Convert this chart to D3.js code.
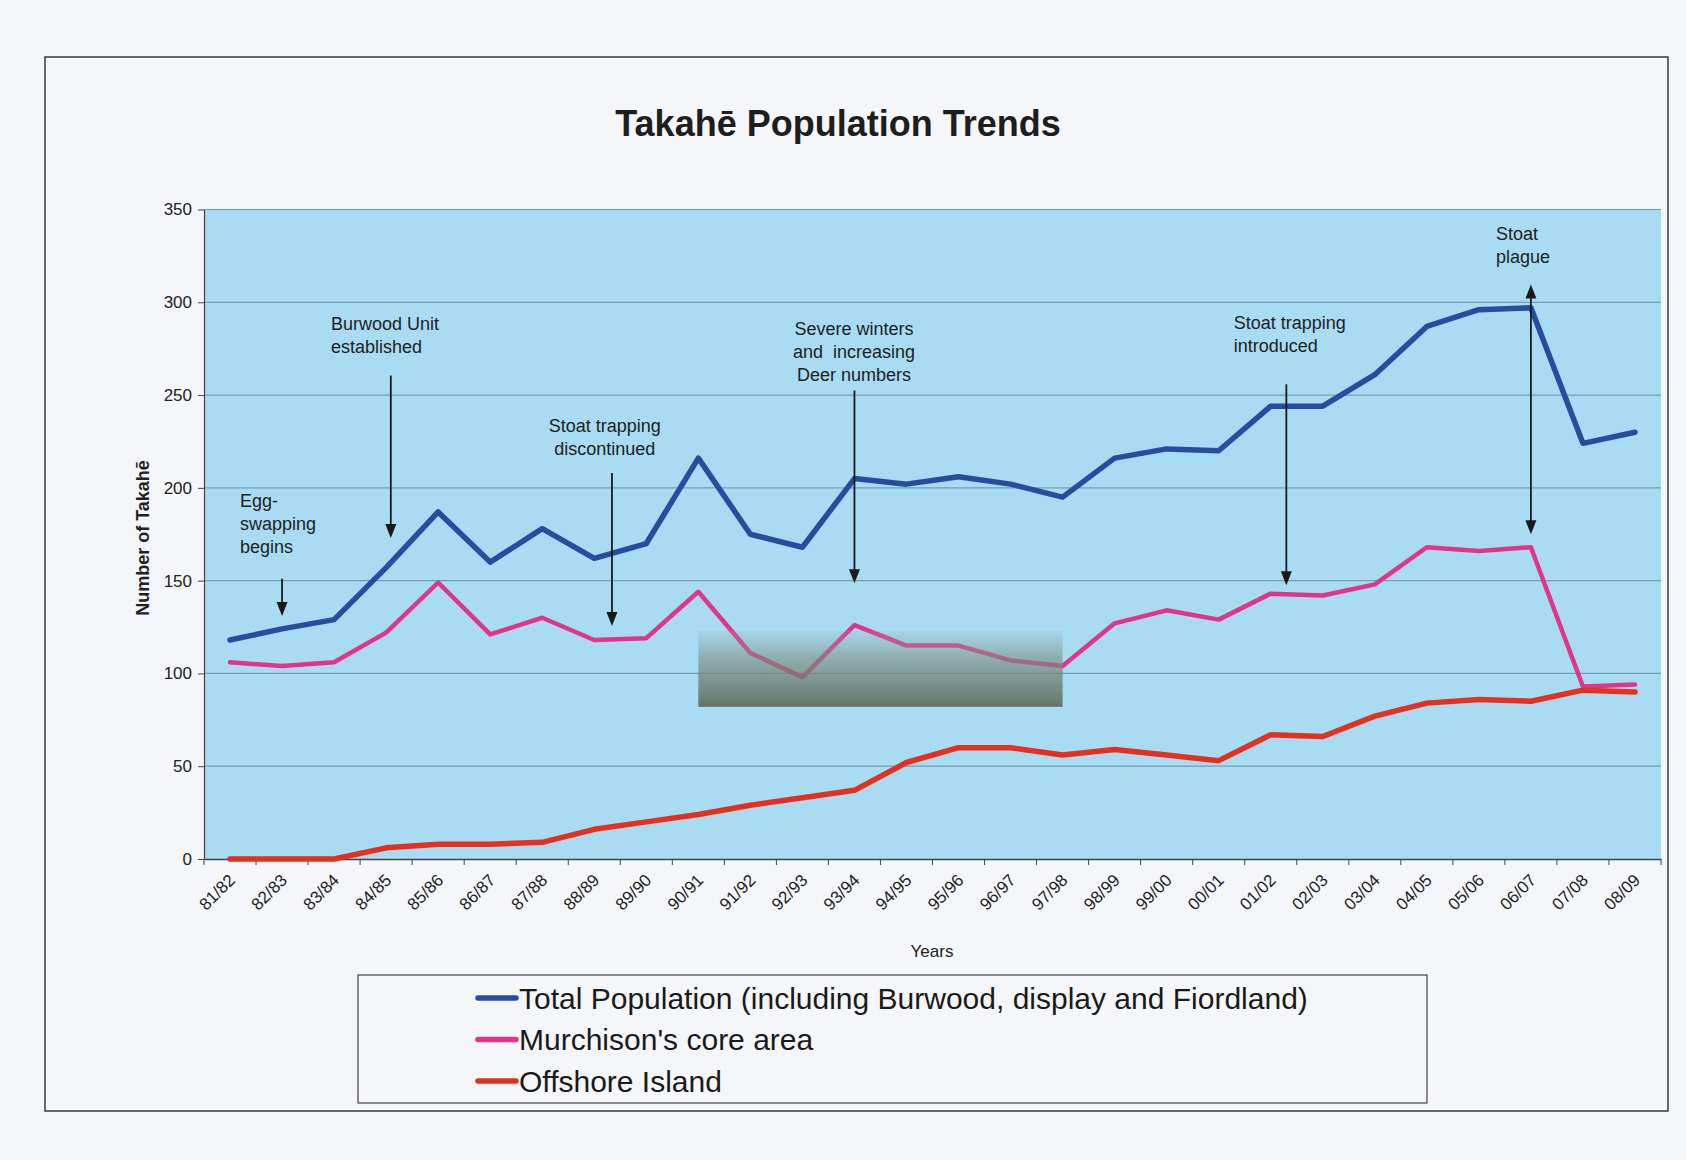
<!DOCTYPE html>
<html><head><meta charset="utf-8">
<script src="https://cdn.jsdelivr.net/npm/d3@7"></script>
<style>
html,body{margin:0;padding:0;background:#f5f6f9;}
svg{display:block;font-family:"Liberation Sans",Arial,sans-serif;}
</style></head><body>
<svg id="chart" width="1686" height="1160"></svg>
<script>
// ---------------- data ----------------
const categories = ["81/82","82/83","83/84","84/85","85/86","86/87","87/88","88/89","89/90","90/91",
  "91/92","92/93","93/94","94/95","95/96","96/97","97/98","98/99","99/00","00/01",
  "01/02","02/03","03/04","04/05","05/06","06/07","07/08","08/09"];
const totalPopulation = [118,124,129,157,187,160,178,162,170,216,175,168,205,202,206,202,195,216,221,220,244,244,261,287,296,297,224,230];
const murchisonCore   = [106,104,106,122,149,121,130,118,119,144,111,98,126,115,115,107,104,127,134,129,143,142,148,168,166,168,93,94];
const offshoreIsland  = [0,0,0,6,8,8,9,16,20,24,29,33,37,52,60,60,56,59,56,53,67,66,77,84,86,85,91,90];
const yTicks = [0,50,100,150,200,250,300,350];
const seriesNames = ["Total Population (including Burwood, display and Fiordland)","Murchison's core area","Offshore Island"];
const titleText = "Takahē Population Trends";
const yTitle = "Number of Takahē";
const xTitle = "Years";
// annotations: arrow at fractional category index, from/to values; label first-line value
const annotations = [
  {lines:["Egg-","swapping","begins"], at:1.0, from:151, to:131, labelAt:0.19, labelValue:193, align:"start"},
  {lines:["Burwood Unit","established"], at:3.09, from:260.5, to:173, labelAt:1.94, labelValue:288.6, align:"start"},
  {lines:["Stoat trapping","discontinued"], at:7.34, from:208, to:125.5, labelAt:7.2, labelValue:233.7, align:"middle"},
  {lines:["Severe winters","and  increasing","Deer numbers"], at:12.0, from:252.5, to:148.6, labelAt:11.99, labelValue:286, align:"middle"},
  {lines:["Stoat trapping","introduced"], at:20.3, from:255.8, to:147.5, labelAt:19.29, labelValue:289, align:"start"},
  {lines:["Stoat","plague"], at:25.0, from:309.6, to:175, labelAt:24.33, labelValue:337, align:"start", both:true}
];
const obscured = {from:"90/91", to:"97/98", low:82, high:123};

// ---------------- layout ----------------
const M = {left:204, right:1661, top:209.5, bottom:859};
const colors = ["#2a4c9f","#e0368a","#e2321f"];
const svg = d3.select("#chart");

const x = d3.scaleBand().domain(categories).range([M.left, M.right]);
const step = x.step();
const xc = c => x(c) + x.bandwidth()/2;
const xi = i => xc(categories[0]) + i*step;
const y = d3.scaleLinear().domain([0,350]).range([M.bottom, M.top]);

// page border
svg.append("rect").attr("x",45).attr("y",57).attr("width",1623).attr("height",1054)
  .attr("fill","none").attr("stroke","#3a3a3a").attr("stroke-width",1.5);

// title
svg.append("text").attr("x",838).attr("y",136).attr("text-anchor","middle")
  .attr("font-size",36).attr("font-weight","bold").attr("fill","#1e1e1e").text(titleText);

// plot background
svg.append("rect").attr("x",M.left).attr("y",M.top).attr("width",M.right-M.left).attr("height",M.bottom-M.top)
  .attr("fill","#a9dbf3");

// gridlines
svg.append("g").selectAll("line").data(yTicks.filter(v=>v>0)).join("line")
  .attr("x1",M.left).attr("x2",M.right).attr("y1",d=>y(d)).attr("y2",d=>y(d))
  .attr("stroke","#6fa0b4").attr("stroke-width",1.2);

// y axis
const yAxis = svg.append("g").attr("transform",`translate(${M.left},0)`)
  .call(d3.axisLeft(y).tickValues(yTicks).tickSize(6).tickSizeOuter(0).tickPadding(6));
yAxis.select(".domain").attr("stroke","#444").attr("stroke-width",1.2);
yAxis.selectAll(".tick line").attr("stroke","#444");
yAxis.selectAll(".tick text").attr("font-size",17).attr("fill","#222").attr("font-family","Liberation Sans, Arial, sans-serif");

// x axis
const xAxis = svg.append("g").attr("transform",`translate(0,${M.bottom})`)
  .call(d3.axisBottom(x).tickSize(6).tickSizeOuter(0));
xAxis.select(".domain").attr("stroke","#444").attr("stroke-width",1.5);
xAxis.selectAll(".tick line").attr("stroke","#444").attr("transform",`translate(${-step/2},0)`);
xAxis.append("line").attr("x1",M.right).attr("x2",M.right).attr("y1",0).attr("y2",6).attr("stroke","#444");
xAxis.selectAll(".tick text")
  .attr("font-size",17).attr("fill","#222").attr("font-family","Liberation Sans, Arial, sans-serif")
  .attr("text-anchor","end").attr("x",0).attr("y",0).attr("dy","0.35em")
  .attr("transform","translate(2,18) rotate(-45)");

// axis titles
svg.append("text").attr("transform",`translate(143,538) rotate(-90)`).attr("text-anchor","middle")
  .attr("dy","0.35em").attr("font-size",18).attr("font-weight","bold").attr("fill","#222").text(yTitle);
svg.append("text").attr("x",932).attr("y",951).attr("dy","0.35em").attr("text-anchor","middle")
  .attr("font-size",17).attr("fill","#222").text(xTitle);

// lines
const seriesData = [totalPopulation, murchisonCore, offshoreIsland];
const lineGen = d3.line().x((d,i)=>xc(categories[i])).y(d=>y(d));
svg.append("g").selectAll("path").data(seriesData).join("path")
  .attr("d",lineGen).attr("fill","none")
  .attr("stroke",(d,i)=>colors[i]).attr("stroke-width",(d,i)=>i===1?4.5:5.5)
  .attr("stroke-linejoin","round").attr("stroke-linecap","round");

// obscuring box (gradient)
const defs = svg.append("defs");
const grad = defs.append("linearGradient").attr("id","obs").attr("x1",0).attr("y1",0).attr("x2",0).attr("y2",1);
grad.append("stop").attr("offset","0%").attr("stop-color","#8fa6a6").attr("stop-opacity",0.15);
grad.append("stop").attr("offset","35%").attr("stop-color","#7d8f80").attr("stop-opacity",0.6);
grad.append("stop").attr("offset","100%").attr("stop-color","#5d6858").attr("stop-opacity",0.9);
svg.append("rect").attr("x",xc(obscured.from)).attr("y",y(obscured.high))
  .attr("width",xc(obscured.to)-xc(obscured.from)).attr("height",y(obscured.low)-y(obscured.high))
  .attr("fill","url(#obs)");

// annotations
const ag = svg.append("g");
const head = 14, hw = 5.5;
annotations.forEach(a=>{
  const ax = xi(a.at), y1 = y(a.from), y2 = y(a.to);
  ag.append("line").attr("x1",ax).attr("x2",ax).attr("y1",a.both?y1+head-2:y1).attr("y2",y2-head+2)
    .attr("stroke","#1a1a1a").attr("stroke-width",1.8);
  ag.append("path").attr("d",`M${ax},${y2} L${ax-hw},${y2-head} L${ax+hw},${y2-head} Z`).attr("fill","#1a1a1a");
  if(a.both) ag.append("path").attr("d",`M${ax},${y1} L${ax-hw},${y1+head} L${ax+hw},${y1+head} Z`).attr("fill","#1a1a1a");
  const t = ag.append("text").attr("font-size",18).attr("fill","#1e1e1e").attr("text-anchor",a.align)
    .attr("xml:space","preserve").style("white-space","pre");
  a.lines.forEach((ln,k)=>{
    t.append("tspan").attr("x",xi(a.labelAt)).attr("y",y(a.labelValue)+k*23).attr("dy","0.35em").text(ln);
  });
});

// legend
const lg = svg.append("g");
lg.append("rect").attr("x",358).attr("y",975).attr("width",1069).attr("height",128)
  .attr("fill","none").attr("stroke","#444").attr("stroke-width",1.2);
seriesNames.forEach((n,i)=>{
  const ly = 998 + i*41.5;
  lg.append("line").attr("x1",478).attr("x2",516).attr("y1",ly).attr("y2",ly)
    .attr("stroke",colors[i]).attr("stroke-width",5.5).attr("stroke-linecap","round");
  lg.append("text").attr("x",519).attr("y",ly).attr("dy","0.36em").attr("font-size",30).attr("fill","#1a1a1a").text(n);
});
</script>
</body></html>
